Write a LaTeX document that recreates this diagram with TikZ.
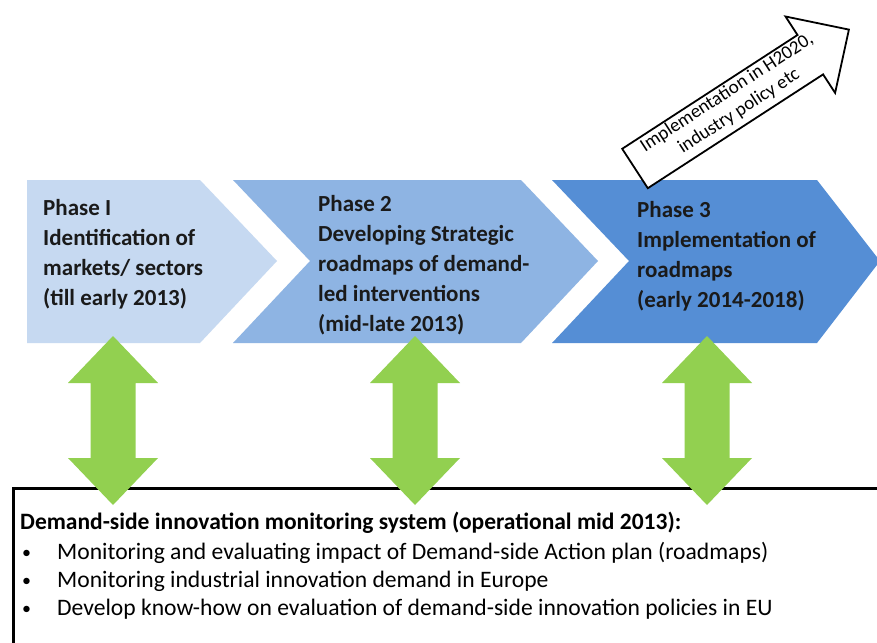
\documentclass[tikz,border=0pt]{standalone}
\usepackage{fontspec}
\setmainfont{Carlito}
\definecolor{chone}{HTML}{C6D9F1}
\definecolor{chtwo}{HTML}{8EB4E3}
\definecolor{chthree}{HTML}{558ED5}
\definecolor{arrowgreen}{HTML}{92D050}
\definecolor{phaseink}{HTML}{1A1A1A}
\begin{document}
\begin{tikzpicture}[x=1pt,y=-1pt,
  phasetext/.style={anchor=base west, inner sep=0pt, align=left,
    font=\fontsize{23}{30}\selectfont\bfseries, text=phaseink},
  bodytext/.style={anchor=base west, inner sep=0pt,
    font=\fontsize{23.6}{29}\selectfont, text=black},
  dblarrow/.pic={
    \fill[arrowgreen] (0,336) -- (45,383) -- (22.5,383) -- (22.5,458) -- (45,458)
      -- (0,505) -- (-45,458) -- (-22.5,458) -- (-22.5,383) -- (-45,383) -- cycle;
  }]
\useasboundingbox (0,0) rectangle (877,642);
\fill[white] (0,0) rectangle (877,642);

% chevrons
\fill[chone] (27,180) -- (200,180) -- (277,261) -- (200,343) -- (27,343) -- cycle;
\fill[chtwo] (233,180) -- (521,180) -- (598,261) -- (521,343) -- (233,343) -- (310,261) -- cycle;
\fill[chthree] (552,180) -- (817,180) -- (880,261) -- (817,343) -- (552,343) -- (629,261) -- cycle;

% phase texts (base anchor = last line's baseline)
\node[phasetext] (p1) at (43,305) {Phase I\\Identification of\\markets/ sectors\\(till early 2013)};
\node[phasetext] (p2) at (318,331) {Phase 2\\Developing Strategic\\roadmaps of demand-\\led interventions\\(mid-late 2013)};
\node[phasetext] (p3) at (637,307) {Phase 3\\Implementation of\\roadmaps\\(early 2014-2018)};

% implementation arrow
\draw[line width=1.8pt, line join=miter, fill=white]
  (622.2,148.8) -- (797.5,35.0) -- (785.5,16.5) -- (848.9,29.6)
  -- (835.1,92.9) -- (823.1,74.4) -- (647.8,188.2) -- cycle;
\node[rotate=33, align=center, inner sep=0pt, font=\fontsize{19}{22}\selectfont] (impl)
  at (733,102) {Implementation in H2020,\\industry policy etc};

% monitoring box
\node[draw, line width=2.5pt, anchor=north west, minimum width=900pt, minimum height=200pt,
  inner sep=0pt] (monitor) at (12,487) {};
\node[bodytext, font=\fontsize{23.5}{29}\selectfont\bfseries] (mhead) at (20,529)
  {Demand-side innovation monitoring system (operational mid 2013):};
\node[bodytext, font=\fontsize{18}{29}\selectfont] (bul1) at (22,558) {•};
\node[bodytext, font=\fontsize{18}{29}\selectfont] (bul2) at (22,586) {•};
\node[bodytext, font=\fontsize{18}{29}\selectfont] (bul3) at (22,614) {•};
\node[bodytext] (item1) at (57,559) {Monitoring and evaluating impact of Demand-side Action plan (roadmaps)};
\node[bodytext] (item2) at (57,587) {Monitoring industrial innovation demand in Europe};
\node[bodytext] (item3) at (57,615) {Develop know-how on evaluation of demand-side innovation policies in EU};

% green double arrows
\pic at (113,0) {dblarrow};
\pic at (415,0) {dblarrow};
\pic at (707,0) {dblarrow};
\end{tikzpicture}
\end{document}
